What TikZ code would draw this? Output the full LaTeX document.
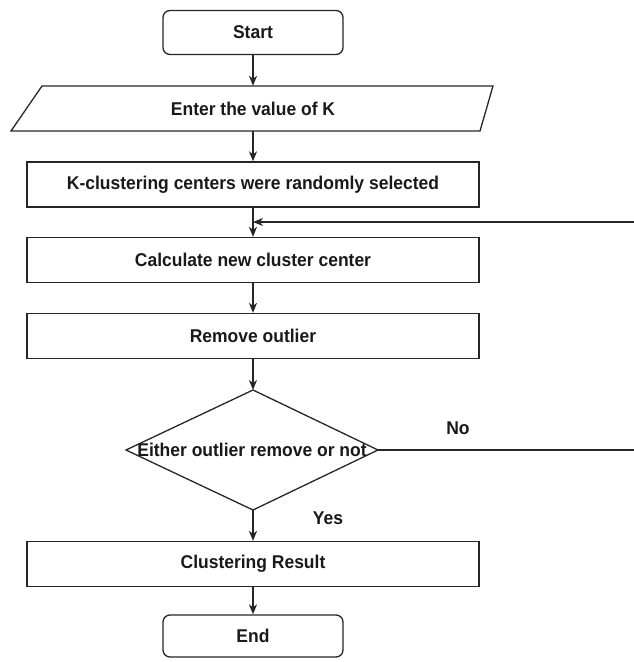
\documentclass[tikz,border=0pt]{standalone}
\usepackage{fontspec}
\setmainfont{Liberation Sans}[FakeStretch=0.945]
\usetikzlibrary{arrows.meta}
\begin{document}
\begin{tikzpicture}[x=1pt,y=-1pt,
  every node/.style={font=\fontsize{18.5}{21}\selectfont\bfseries, text=black!90},
  box/.style={draw=black!85, line width=1.3pt, minimum width=452pt, minimum height=45pt, inner sep=0pt},
  term/.style={draw=black!85, rounded corners=7pt, line width=1.3pt, minimum width=180pt, minimum height=44pt, inner sep=0pt},
  arr/.style={draw=black!85, -{Stealth[length=10pt,width=8pt,inset=3pt]}, line width=1.3pt},
  ln/.style={draw=black!85, line width=1.3pt},
  lbl/.style={inner sep=0pt}]
\useasboundingbox (0,0) rectangle (633,662);
% terminals and process boxes
\node[term] (start) at (253,32.5) {Start};
\draw[ln] (42,86) -- (493,86) -- (480,131) -- (11,131) -- cycle;
\node[minimum height=45pt, inner sep=0pt] (input) at (253,108.5) {Enter the value of K};
\node[box] (kc) at (253,184.5) {K-clustering centers were randomly selected};
\node[box] (calc) at (253,260) {Calculate new cluster center};
\node[box] (rem) at (253,336) {Remove outlier};
% decision
\coordinate (dt) at (253,390);
\coordinate (db) at (253,510);
\coordinate (dl) at (126,450);
\coordinate (dr) at (378,450);
\draw[ln] (dt) -- (dr) -- (db) -- (dl) -- cycle;
\node[inner sep=0pt] (dec) at (252,450) {Either outlier remove or not};
\node[box] (res) at (253,564) {Clustering Result};
\node[term, minimum height=42pt] (end) at (253,636) {End};
% labels
\node[lbl] (no) at (458,428) {No};
\node[lbl] (yes) at (328,518) {Yes};
% connectors
\coordinate (fb) at (253,222);
\coordinate (far) at (660,450);
\draw[arr] (start.south) -- (input.north);
\draw[arr] (input.south) -- (kc.north);
\draw[arr] (kc.south) -- (calc.north);
\draw[arr] (calc.south) -- (rem.north);
\draw[arr] (rem.south) -- (dt);
\draw[arr] (db) -- (res.north);
\draw[arr] (res.south) -- (end.north);
\draw[arr] (dr) -- (far) |- (fb);
\end{tikzpicture}
\end{document}
